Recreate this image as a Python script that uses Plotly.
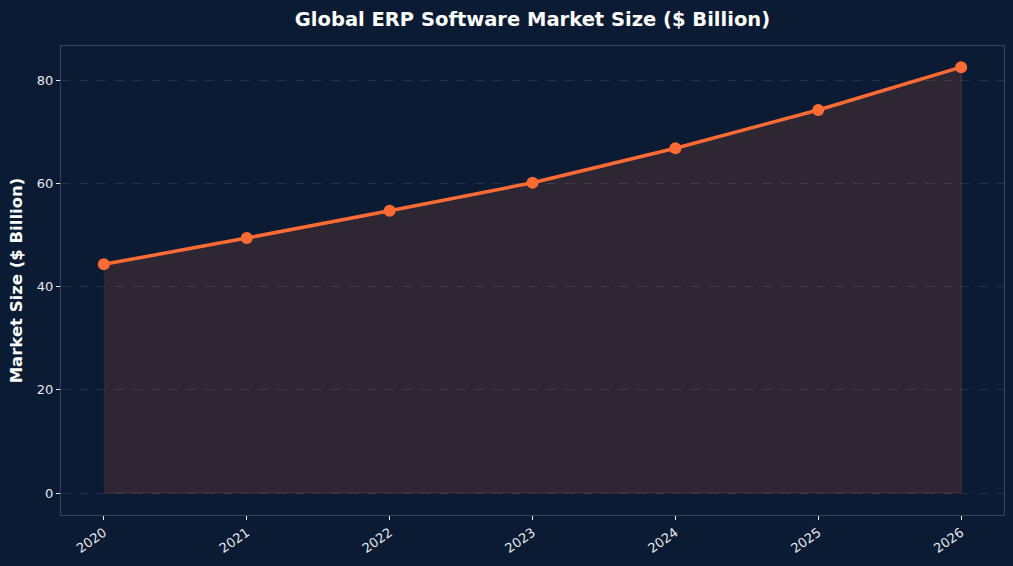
import plotly.graph_objects as go

years = [2020, 2021, 2022, 2023, 2024, 2025, 2026]
market_size = [44.3, 49.4, 54.7, 60.1, 66.8, 74.2, 82.5]
tick_labels = [str(y) for y in years]

BG = "#0b1b33"
LINE = "#ff6b35"
TXT = "#e6e9ef"

fig = go.Figure()
# fill polygon (area under curve, with thin edge like fill_between)
fig.add_trace(go.Scatter(
    x=years + years[::-1],
    y=market_size + [0] * len(years),
    fill="toself",
    fillcolor="rgba(255,107,53,0.15)",
    line=dict(color="rgba(255,107,53,0.22)", width=1),
    mode="lines",
    hoverinfo="skip",
    showlegend=False,
))
fig.add_trace(go.Scatter(
    x=years, y=market_size,
    mode="lines+markers",
    line=dict(color=LINE, width=3.5),
    marker=dict(color=LINE, size=12),
    showlegend=False,
))

fig.update_layout(
    width=1013, height=566,
    paper_bgcolor=BG, plot_bgcolor=BG,
    margin=dict(l=61, r=9, t=46, b=51),
    font=dict(family="DejaVu Sans", color=TXT, size=13),
    title=dict(text="<b>Global ERP Software Market Size ($ Billion)</b>",
               x=0.5, xref="paper", xanchor="center", y=0.967, yanchor="middle",
               font=dict(size=19.5, color="#ffffff")),
)
fig.update_xaxes(
    range=[2019.7, 2026.3],
    tickmode="array", tickvals=years, ticktext=tick_labels,
    tickangle=-35,
    ticks="outside", ticklen=4, tickcolor=TXT, tickwidth=1,
    showgrid=False, zeroline=False,
    showline=True, linecolor="#34455e", linewidth=1, mirror=True,
    tickfont=dict(size=13, color=TXT),
)
fig.update_yaxes(
    range=[-4.26, 86.6],
    tickvals=[0, 20, 40, 60, 80],
    ticks="outside", ticklen=4, tickcolor=TXT, tickwidth=1,
    showgrid=True, gridcolor="#22324c", griddash="dash", gridwidth=1,
    zeroline=False,
    showline=True, linecolor="#34455e", linewidth=1, mirror=True,
    title=dict(text="<b>Market Size ($ Billion)</b>", font=dict(size=16.5, color="#ffffff"), standoff=10),
    tickfont=dict(size=13, color=TXT),
)

fig.write_html("out.html")
